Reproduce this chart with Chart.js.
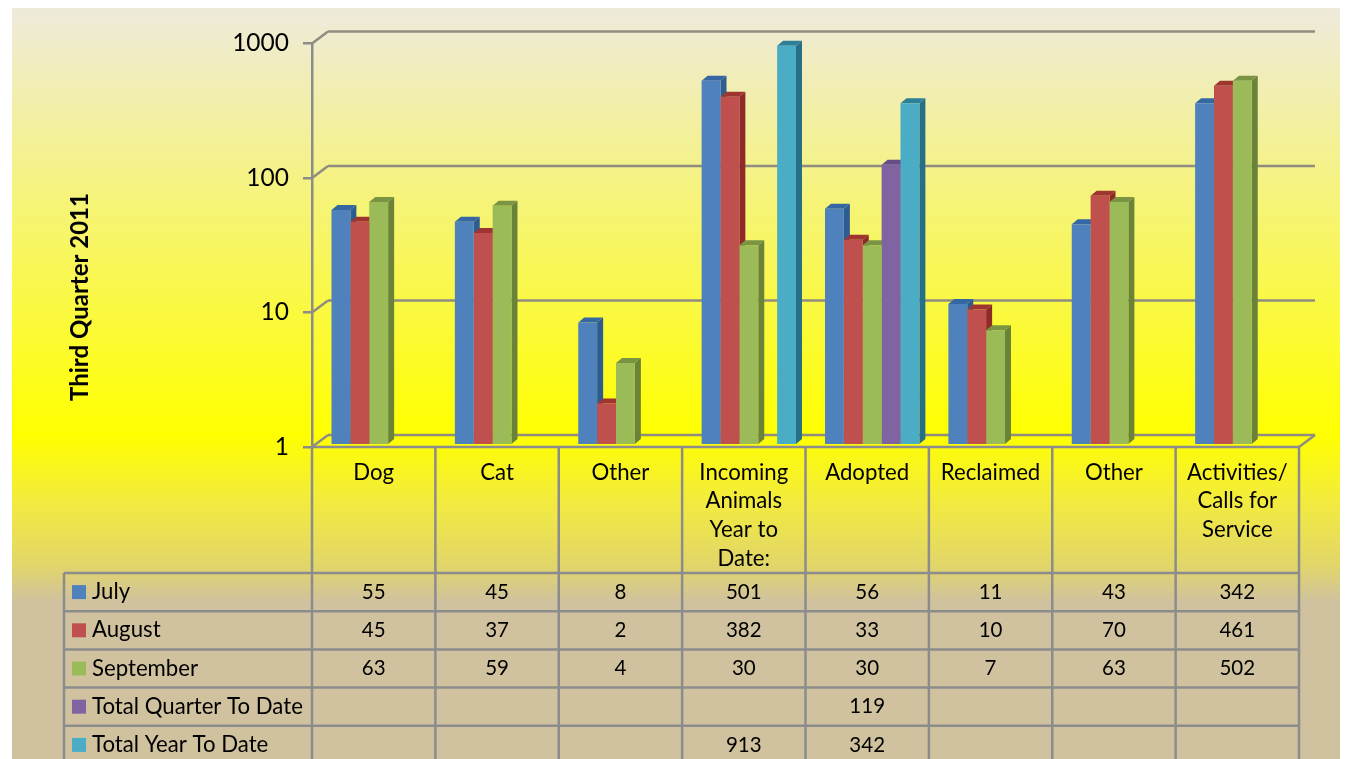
<!DOCTYPE html>
<html>
<head>
<meta charset="utf-8">
<title>Third Quarter 2011</title>
<script src="https://cdn.jsdelivr.net/npm/chart.js@4"></script>
<style>
  html, body { margin: 0; padding: 0; background: #fff; overflow: hidden; }
  canvas { display: block; }
</style>
</head>
<body>
<canvas id="quarterChart" width="1345" height="759"></canvas>
<script>
// data
const categories = [
  "Dog", "Cat", "Other",
  ["Incoming", "Animals", "Year to", "Date:"],
  "Adopted", "Reclaimed", "Other",
  ["Activities/", "Calls for", "Service"]
];
const july = [55, 45, 8, 501, 56, 11, 43, 342];
const august = [45, 37, 2, 382, 33, 10, 70, 461];
const september = [63, 59, 4, 30, 30, 7, 63, 502];
const totalQuarter = [null, null, null, null, 119, null, null, null];
const totalYear = [null, null, null, 913, 342, null, null, null];
const yTicks = [1, 10, 100, 1000];
const axisTitle = "Third Quarter 2011";

const seriesNames = ["July", "August", "September", "Total Quarter To Date", "Total Year To Date"];
const seriesValues = [july, august, september, totalQuarter, totalYear];
const frontColors = ["#4F81BD", "#C0504D", "#9BBB59", "#8064A2", "#4BACC6"];
const sideColors = ["#2C5C92", "#8E2B28", "#6B8338", "#5B4279", "#276F86"];
const topColors = ["#3568A3", "#9E3531", "#7A9443", "#674C87", "#2F7F98"];

const FONT = "Lato, 'Open Sans', sans-serif";
const LINE = "#8C8C8C";
const WALL_LINE = "#908C80";

// offset of the bars from the front plane, their depth, and the back wall offset
const BAR_DX = 5, BAR_DY = -3;
const DEPTH_X = 6, DEPTH_Y = -5;
const WALL_DX = 16, WALL_DY = -12;

// table under the plot
const TABLE_LEFT = 64, TABLE_TOP = 573, ROW_H = 38.2;

function line(ctx, x1, y1, x2, y2) {
  ctx.beginPath();
  ctx.moveTo(x1, y1);
  ctx.lineTo(x2, y2);
  ctx.stroke();
}

// gradient background behind everything
const backgroundPlugin = {
  id: "background",
  beforeDraw(chart) {
    const ctx = chart.ctx;
    const g = ctx.createLinearGradient(0, 8, 0, 759);
    g.addColorStop(0, "#EEEADC");
    g.addColorStop(0.568, "#FFFF00");
    g.addColorStop(0.66, "#F2EA40");
    g.addColorStop(0.74, "#E2D668");
    g.addColorStop(0.79, "#D0C29E");
    g.addColorStop(1, "#D0C29E");
    ctx.save();
    ctx.fillStyle = g;
    ctx.fillRect(12, 8, 1328, 751);
    ctx.restore();
  }
};

// back wall lines, floor, then side and top faces of the bars
const wallPlugin = {
  id: "wall",
  beforeDatasetsDraw(chart) {
    const ctx = chart.ctx;
    const { left, right, bottom } = chart.chartArea;
    const y = chart.scales.y;
    ctx.save();
    ctx.strokeStyle = WALL_LINE;
    ctx.lineWidth = 2.5;
    yTicks.forEach((t) => {
      const py = y.getPixelForValue(t);
      line(ctx, left, py, left + WALL_DX, py + WALL_DY);
      line(ctx, left + WALL_DX, py + WALL_DY, right + WALL_DX, py + WALL_DY);
    });
    line(ctx, right, bottom, right + WALL_DX, bottom + WALL_DY);

    seriesValues.forEach((values, i) => {
      chart.getDatasetMeta(i).data.forEach((bar, j) => {
        if (values[j] === null) return;
        const { x, y: top, base, width } = bar.getProps(["x", "y", "base", "width"], true);
        const x2 = x + width / 2 + BAR_DX;
        const x1 = x - width / 2 + BAR_DX;
        const yTop = top + BAR_DY;
        const yBase = base + BAR_DY;
        ctx.fillStyle = sideColors[i];
        ctx.beginPath();
        ctx.moveTo(x2, yTop);
        ctx.lineTo(x2 + DEPTH_X, yTop + DEPTH_Y);
        ctx.lineTo(x2 + DEPTH_X, yBase + DEPTH_Y);
        ctx.lineTo(x2, yBase);
        ctx.closePath();
        ctx.fill();
        ctx.fillStyle = topColors[i];
        ctx.beginPath();
        ctx.moveTo(x1, yTop);
        ctx.lineTo(x1 + DEPTH_X, yTop + DEPTH_Y);
        ctx.lineTo(x2 + DEPTH_X, yTop + DEPTH_Y);
        ctx.lineTo(x2, yTop);
        ctx.closePath();
        ctx.fill();
      });
    });
    ctx.restore();

    // the native fronts get the same shift
    ctx.save();
    ctx.translate(BAR_DX, BAR_DY);
  },
  afterDatasetsDraw(chart) {
    chart.ctx.restore();
  }
};

// data table: grid, legend keys and values, plus the rotated axis title
const tablePlugin = {
  id: "dataTable",
  afterDraw(chart) {
    const ctx = chart.ctx;
    const { left, right, bottom } = chart.chartArea;
    const x = chart.scales.x;
    const step = (right - left) / categories.length;
    const end = 759;
    ctx.save();
    ctx.strokeStyle = LINE;
    ctx.lineWidth = 2.5;
    line(ctx, left, bottom, right, bottom);
    for (let c = 0; c <= categories.length; c++) {
      line(ctx, left + c * step, bottom, left + c * step, end);
    }
    line(ctx, TABLE_LEFT, TABLE_TOP, TABLE_LEFT, end);
    for (let r = 0; r < seriesNames.length; r++) {
      line(ctx, TABLE_LEFT, TABLE_TOP + r * ROW_H, right, TABLE_TOP + r * ROW_H);
    }
    ctx.fillStyle = "#000";
    ctx.textBaseline = "middle";
    seriesNames.forEach((name, r) => {
      const rowY = TABLE_TOP + r * ROW_H + ROW_H / 2;
      ctx.fillStyle = frontColors[r];
      ctx.fillRect(72, rowY - 7, 14, 14);
      ctx.fillStyle = "#000";
      ctx.textAlign = "left";
      ctx.font = "22.2px " + FONT;
      ctx.fillText(name, 92, rowY);
      ctx.textAlign = "center";
      ctx.font = "20.5px " + FONT;
      seriesValues[r].forEach((v, c) => {
        if (v !== null) ctx.fillText(String(v), x.getPixelForValue(c), rowY);
      });
    });

    ctx.translate(80, 297);
    ctx.rotate(-Math.PI / 2);
    ctx.textAlign = "center";
    ctx.font = "bold 24px " + FONT;
    ctx.fillText(axisTitle, 0, 0);
    ctx.restore();
  }
};

const datasets = seriesNames.map((name, i) => ({
  label: name,
  data: seriesValues[i],
  backgroundColor: frontColors[i],
  borderWidth: 0,
  clip: false,
  categoryPercentage: 0.765,
  barPercentage: 1
}));

new Chart(document.getElementById("quarterChart"), {
  type: "bar",
  data: { labels: categories, datasets: datasets },
  plugins: [backgroundPlugin, wallPlugin, tablePlugin],
  options: {
    responsive: false,
    animation: false,
    devicePixelRatio: 1,
    layout: { padding: { top: 43.5, right: 46, left: 0, bottom: 0 } },
    plugins: { legend: { display: false }, tooltip: { enabled: false } },
    scales: {
      x: {
        afterFit(scale) { scale.height = 312; },
        grid: { display: false },
        border: { display: false },
        ticks: {
          autoSkip: false,
          maxRotation: 0,
          padding: 3,
          color: "#000",
          font: { family: FONT, size: 22.2, lineHeight: 1.3 }
        }
      },
      y: {
        type: "logarithmic",
        min: 1,
        max: 1000,
        afterFit(scale) { scale.width = 312; },
        afterBuildTicks(scale) { scale.ticks = yTicks.map((v) => ({ value: v })); },
        grid: { drawOnChartArea: false, drawTicks: true, tickLength: 9, color: LINE, lineWidth: 2.5 },
        border: { color: LINE, width: 2.5 },
        ticks: {
          padding: 14,
          color: "#000",
          font: { family: FONT, size: 24.5 },
          callback: (v) => String(v)
        }
      }
    }
  }
});
</script>
</body>
</html>
